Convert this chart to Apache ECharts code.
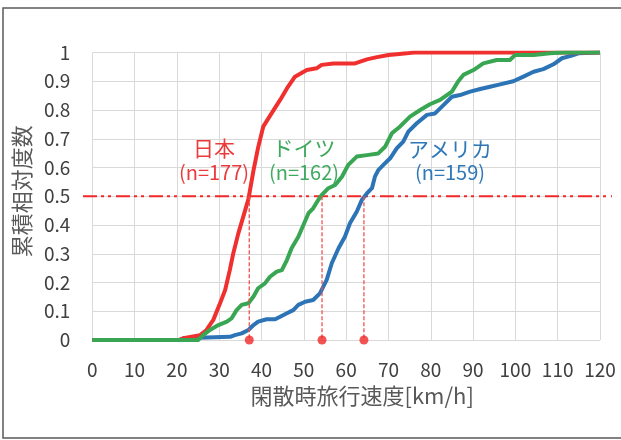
<!DOCTYPE html>
<html>
<head>
<meta charset="utf-8">
<script src="https://cdn.jsdelivr.net/npm/echarts@6/dist/echarts.min.js"></script>
<style>
html,body{margin:0;padding:0;background:#fff;}
#chart{width:621px;height:440px;}
</style>
</head>
<body>
<div id="chart"></div>
<script>
// ---- data ----
var xTicks = [0, 10, 20, 30, 40, 50, 60, 70, 80, 90, 100, 110, 120];
var yTicks = [0, 0.1, 0.2, 0.3, 0.4, 0.5, 0.6, 0.7, 0.8, 0.9, 1];

var japanSpeed = [0, 20.5, 21.5, 25.5, 27, 28.6, 30.2, 31.4, 32.5, 33.3, 34.5, 35.7, 36.9, 38.1, 39.2, 40.4, 42.4, 44.4, 46, 47.9, 50.7, 53, 54.2, 57, 62.1, 64.9, 67, 70, 72, 74.3, 76, 120];
var japanCum   = [0, 0, 0.006, 0.017, 0.035, 0.07, 0.128, 0.174, 0.243, 0.3, 0.37, 0.43, 0.49, 0.59, 0.67, 0.742, 0.789, 0.835, 0.875, 0.916, 0.939, 0.945, 0.957, 0.962, 0.962, 0.976, 0.983, 0.991, 0.994, 0.997, 1, 1];

var germanySpeed = [0, 25, 26.2, 27.8, 29.8, 31.8, 32.9, 34.1, 35.3, 36.9, 38.1, 39.2, 40.8, 42, 43.6, 44.8, 46, 47.1, 48.7, 49.9, 51.1, 52.2, 53.4, 54.2, 55.8, 57.4, 59, 60.5, 62.5, 64.9, 67.6, 69.2, 70.8, 72.7, 75.1, 77.5, 79.8, 82.2, 85, 86.5, 87.7, 90.1, 92.4, 95.6, 98.7, 99.9, 104.3, 108.2, 111.3, 120];
var germanyCum   = [0, 0, 0.017, 0.035, 0.052, 0.064, 0.075, 0.104, 0.122, 0.128, 0.151, 0.18, 0.197, 0.22, 0.238, 0.243, 0.278, 0.319, 0.359, 0.4, 0.441, 0.458, 0.487, 0.504, 0.528, 0.539, 0.568, 0.609, 0.638, 0.643, 0.649, 0.672, 0.719, 0.742, 0.777, 0.8, 0.82, 0.835, 0.864, 0.9, 0.922, 0.939, 0.962, 0.974, 0.974, 0.991, 0.991, 0.997, 1, 1];

var usaSpeed = [0, 20.5, 21.5, 32.6, 33.7, 35.3, 36.9, 38.1, 39.2, 41.2, 43.2, 44.4, 46, 47.5, 48.7, 50.3, 52.2, 53.8, 55.4, 56.6, 58.2, 59.7, 60.9, 62.5, 63.7, 64.9, 66.1, 66.8, 67.6, 68.8, 70.4, 72, 73.5, 74.7, 76.7, 79.1, 81, 83, 85, 86.9, 89.3, 91.7, 94, 96.4, 99.5, 101.9, 104.3, 106.6, 109, 111, 113.3, 114.9, 120];
var usaCum   = [0, 0, 0.006, 0.011, 0.017, 0.023, 0.035, 0.052, 0.064, 0.072, 0.072, 0.081, 0.093, 0.104, 0.122, 0.133, 0.139, 0.162, 0.209, 0.267, 0.319, 0.359, 0.406, 0.446, 0.487, 0.51, 0.528, 0.568, 0.591, 0.609, 0.632, 0.667, 0.69, 0.725, 0.754, 0.783, 0.788, 0.817, 0.846, 0.852, 0.864, 0.873, 0.881, 0.889, 0.9, 0.916, 0.933, 0.942, 0.959, 0.98, 0.989, 0.997, 1];

var medianSpeeds = [37.1, 54.3, 64.2];   // Japan, Germany, USA at 0.5
var halfLevel = 0.5;

var seriesNames = ['日本', 'ドイツ', 'アメリカ'];
var sampleLabels = ['(n=177)', '(n=162)', '(n=159)'];

var xTitle = '閑散時旅行速度[km/h]';
var yTitle = '累積相対度数';

// ---- styles ----
var RED = '#F0302E', GREEN = '#38A652', BLUE = '#2C74B5';
var FONT = '"Noto Sans CJK JP", "Noto Sans", sans-serif';

function pairs(xs, ys) { return xs.map(function (x, i) { return [x, ys[i]]; }); }

var chart = echarts.init(document.getElementById('chart'), null, {renderer: 'canvas'});

var curveBase = {
  type: 'line', showSymbol: false, smooth: false, xAxisIndex: 0, yAxisIndex: 0,
  animation: false, silent: true
};

var series = [
  Object.assign({}, curveBase, {name: seriesNames[2], data: pairs(usaSpeed, usaCum), lineStyle: {color: BLUE, width: 4, join: 'round'}, itemStyle: {color: BLUE}, z: 3}),
  Object.assign({}, curveBase, {name: seriesNames[0], data: pairs(japanSpeed, japanCum), lineStyle: {color: RED, width: 4, join: 'round'}, itemStyle: {color: RED}, z: 4}),
  Object.assign({}, curveBase, {name: seriesNames[1], data: pairs(germanySpeed, germanyCum), lineStyle: {color: GREEN, width: 4, join: 'round'}, itemStyle: {color: GREEN}, z: 5}),
  {
    type: 'line', xAxisIndex: 1, yAxisIndex: 1, showSymbol: false, silent: true, animation: false, z: 2,
    data: [[0, halfLevel], [1, halfLevel]],
    lineStyle: {color: '#F02828', width: 2, type: [14, 4, 3, 4, 3, 5]}
  }
];
medianSpeeds.forEach(function (m) {
  series.push({
    type: 'line', xAxisIndex: 0, yAxisIndex: 0, showSymbol: false, silent: true, animation: false, z: 6,
    data: [[m, halfLevel], [m, 0]],
    lineStyle: {color: '#F25050', width: 1.3, type: [4, 2]}
  });
});
series.push({
  type: 'scatter', xAxisIndex: 0, yAxisIndex: 0, silent: true, animation: false, z: 7, clip: false,
  symbolSize: 9, itemStyle: {color: '#F02828'},
  data: medianSpeeds.map(function (m) { return [m, 0]; })
});

var labelColors = ['#EC3A3A', '#3FA95D', '#2E78B8'];
var labelPos = [[214, 148, 172], [304, 148, 172], [450, 149, 172]];
var graphics = [
  {type: 'rect', shape: {x: 3, y: 8, width: 700, height: 430}, style: {fill: 'none', stroke: '#595959', lineWidth: 1.5}, silent: true, z: 100}
];
seriesNames.forEach(function (n, i) {
  graphics.push({type: 'text', x: labelPos[i][0], y: labelPos[i][1], style: {text: n, fill: labelColors[i], font: '21px ' + FONT, textAlign: 'center', textVerticalAlign: 'middle'}, z: 50});
  graphics.push({type: 'text', x: labelPos[i][0], y: labelPos[i][2], style: {text: sampleLabels[i], fill: labelColors[i], font: '20px ' + FONT, textAlign: 'center', textVerticalAlign: 'middle'}, z: 50});
});

chart.setOption({
  animation: false,
  backgroundColor: '#fff',
  grid: [
    {left: 92.3, width: 507.7, top: 52.5, height: 287.5, containLabel: false},
    {left: 83, right: 9, top: 52.5, height: 287.5, containLabel: false}
  ],
  xAxis: [
    {
      type: 'value', gridIndex: 0, min: xTicks[0], max: xTicks[xTicks.length - 1], interval: 10,
      name: xTitle, nameLocation: 'middle', nameGap: 45,
      nameTextStyle: {fontFamily: FONT, fontSize: 22, color: '#595959', padding: [0, 0, 0, 32]},
      axisLine: {show: false}, axisTick: {show: false},
      axisLabel: {fontFamily: FONT, fontSize: 19, color: '#404040', margin: 20},
      splitLine: {show: true, lineStyle: {color: '#D9D9D9', width: 1}}
    },
    {type: 'value', gridIndex: 1, min: 0, max: 1, show: false}
  ],
  yAxis: [
    {
      type: 'value', gridIndex: 0, min: yTicks[0], max: yTicks[yTicks.length - 1], interval: 0.1,
      name: yTitle, nameLocation: 'middle', nameGap: 56, nameRotate: 90,
      nameTextStyle: {fontFamily: FONT, fontSize: 22, color: '#595959', padding: [0, 0, 0, 10]},
      axisLine: {show: false}, axisTick: {show: false},
      axisLabel: {fontFamily: FONT, fontSize: 19, color: '#404040', margin: 22,
        formatter: function (v) { return String(+v.toFixed(1)); }},
      splitLine: {show: true, lineStyle: {color: '#D9D9D9', width: 1}}
    },
    {type: 'value', gridIndex: 1, min: 0, max: 1, show: false}
  ],
  series: series,
  graphic: graphics
});
</script>
</body>
</html>
